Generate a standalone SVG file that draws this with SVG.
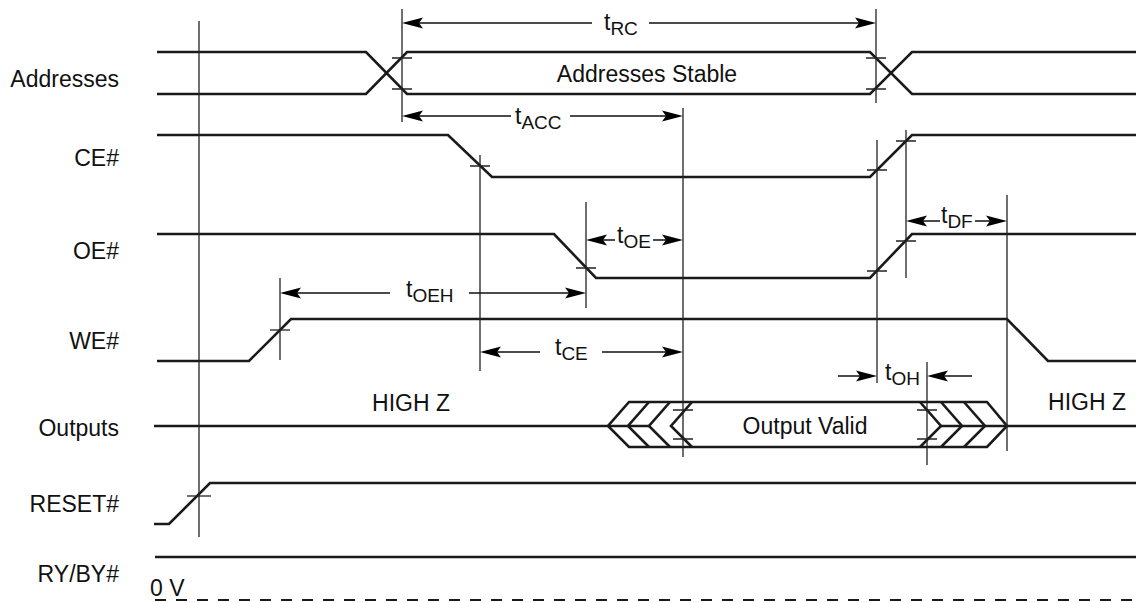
<svg xmlns="http://www.w3.org/2000/svg" xmlns:xlink="http://www.w3.org/1999/xlink" width="1136" height="602" viewBox="0 0 1136 602">
<style>
.sig{fill:none;stroke:#1a1a1a;stroke-width:2.6;stroke-linejoin:miter}
.ref{fill:none;stroke:#222;stroke-width:1.3}
.tick{fill:none;stroke:#222;stroke-width:1.3}
.dim{fill:none;stroke:#111;stroke-width:1.4}
.lbl{font-family:"Liberation Sans",Arial,Helvetica,sans-serif;font-size:23px;fill:#111}
.sub{font-size:19px}
</style>
<defs>
<path id="ahr" d="M0,0 L-21,-5.5 L-17,0 L-21,5.5 Z" fill="#000"/>
</defs>
<rect width="1136" height="602" fill="#fff"/>

<g id="labels">
<text class="lbl" x="119" y="87" text-anchor="end">Addresses</text>
<text class="lbl" x="119" y="166" text-anchor="end">CE#</text>
<text class="lbl" x="119" y="259" text-anchor="end">OE#</text>
<text class="lbl" x="119" y="349" text-anchor="end">WE#</text>
<text class="lbl" x="119" y="436" text-anchor="end">Outputs</text>
<text class="lbl" x="119" y="512" text-anchor="end">RESET#</text>
<text class="lbl" x="119" y="582" text-anchor="end">RY/BY#</text>
</g>

<g id="addresses">
<path class="sig" d="M157,52 H366 L407,94 H870 L912,52 H1136"/>
<path class="sig" d="M157,94 H366 L407,52 H870 L912,94 H1136"/>
<text class="lbl" x="647" y="82" text-anchor="middle">Addresses Stable</text>
</g>

<g id="ce">
<path class="sig" d="M157,135 H448 L492,177 H870 L912,135 H1136"/>
</g>

<g id="oe">
<path class="sig" d="M157,234 H554 L596,278 H870 L912,234 H1136"/>
</g>

<g id="we">
<path class="sig" d="M157,361 H249 L291,319 H1007 L1048,361 H1136"/>
</g>

<g id="outputs">
<path class="sig" d="M154,426 H649"/>
<path class="sig" d="M941,426 H1136"/>
<path class="sig" d="M987,402 H629 L608,426 L629,447 H987 L1007,426 Z"/>
<path class="sig" d="M649,402 L628,426 L649,447 M670,402 L649,426 L670,447 M692,402 L671,426 L692,447"/>
<path class="sig" d="M920,402 L941,426 L920,447 M941,402 L962,426 L941,447 M964,402 L985,426 L964,447"/>
<text class="lbl" x="805" y="434" text-anchor="middle">Output Valid</text>
<text class="lbl" x="411" y="411" text-anchor="middle">HIGH Z</text>
<text class="lbl" x="1087" y="410" text-anchor="middle">HIGH Z</text>
</g>

<g id="reset">
<path class="sig" d="M154,524 H169 L210,483 H1136"/>
</g>

<g id="ryby">
<path class="sig" d="M155,557 H1136"/>
<path fill="none" stroke="#1a1a1a" stroke-width="2" stroke-dasharray="11 10" d="M155,600 H1136"/>
<text class="lbl" x="150" y="596">0 V</text>
</g>

<g id="connectors">
<g id="reflines">
<path class="ref" d="M199,21 V537"/>
<path class="ref" d="M402,9 V122"/>
<path class="ref" d="M876,9 V103"/>
<path class="ref" d="M683,108 V457"/>
<path class="ref" d="M480,155 V371"/>
<path class="ref" d="M877,140 V383"/>
<path class="ref" d="M906,130 V278"/>
<path class="ref" d="M586,202 V308"/>
<path class="ref" d="M280,278 V360"/>
<path class="ref" d="M1007,195 V451"/>
<path class="ref" d="M927,362 V465"/>
</g>
<g id="ticks">
<path class="tick" d="M392,58 H412 M392,89 H412 M866,58 H886 M866,89 H886"/>
<path class="tick" d="M470,166 H490 M867,170 H887 M896,141 H916"/>
<path class="tick" d="M576,268 H596 M867,271 H887 M896,241 H916"/>
<path class="tick" d="M270,330 H290"/>
<path class="tick" d="M673,410 H693 M673,439 H693 M917,410 H937 M917,439 H937"/>
<path class="tick" d="M187,496 H211"/>
</g>
<g id="timings">
<path class="dim" d="M592,23 H410 M649,23 H868"/>
<use xlink:href="#ahr" href="#ahr" transform="translate(402,23) scale(-1,1)"/>
<use xlink:href="#ahr" href="#ahr" transform="translate(876,23)"/>
<text class="lbl" x="604" y="30">t<tspan class="sub" dy="5">RC</tspan></text>

<path class="dim" d="M511,116 H410 M570,116 H675"/>
<use xlink:href="#ahr" href="#ahr" transform="translate(402,116) scale(-1,1)"/>
<use xlink:href="#ahr" href="#ahr" transform="translate(683,116)"/>
<text class="lbl" x="515" y="124">t<tspan class="sub" dy="5">ACC</tspan></text>

<path class="dim" d="M615,240 H594 M653,240 H675"/>
<use xlink:href="#ahr" href="#ahr" transform="translate(586,240) scale(-1,1)"/>
<use xlink:href="#ahr" href="#ahr" transform="translate(683,240)"/>
<text class="lbl" x="617" y="243">t<tspan class="sub" dy="5">OE</tspan></text>

<path class="dim" d="M940,221 H914 M975,221 H999"/>
<use xlink:href="#ahr" href="#ahr" transform="translate(906,221) scale(-1,1)"/>
<use xlink:href="#ahr" href="#ahr" transform="translate(1007,221)"/>
<text class="lbl" x="941" y="223">t<tspan class="sub" dy="5">DF</tspan></text>

<path class="dim" d="M390,293 H288 M469,293 H578"/>
<use xlink:href="#ahr" href="#ahr" transform="translate(280,293) scale(-1,1)"/>
<use xlink:href="#ahr" href="#ahr" transform="translate(586,293)"/>
<text class="lbl" x="406" y="297">t<tspan class="sub" dy="5">OEH</tspan></text>

<path class="dim" d="M540,352 H488 M602,352 H675"/>
<use xlink:href="#ahr" href="#ahr" transform="translate(480,352) scale(-1,1)"/>
<use xlink:href="#ahr" href="#ahr" transform="translate(683,352)"/>
<text class="lbl" x="555" y="355">t<tspan class="sub" dy="5">CE</tspan></text>

<path class="dim" d="M838,376 H869 M972,376 H935"/>
<use xlink:href="#ahr" href="#ahr" transform="translate(877,376)"/>
<use xlink:href="#ahr" href="#ahr" transform="translate(927,376) scale(-1,1)"/>
<text class="lbl" x="885" y="380">t<tspan class="sub" dy="5">OH</tspan></text>
</g>
</g>
</svg>
